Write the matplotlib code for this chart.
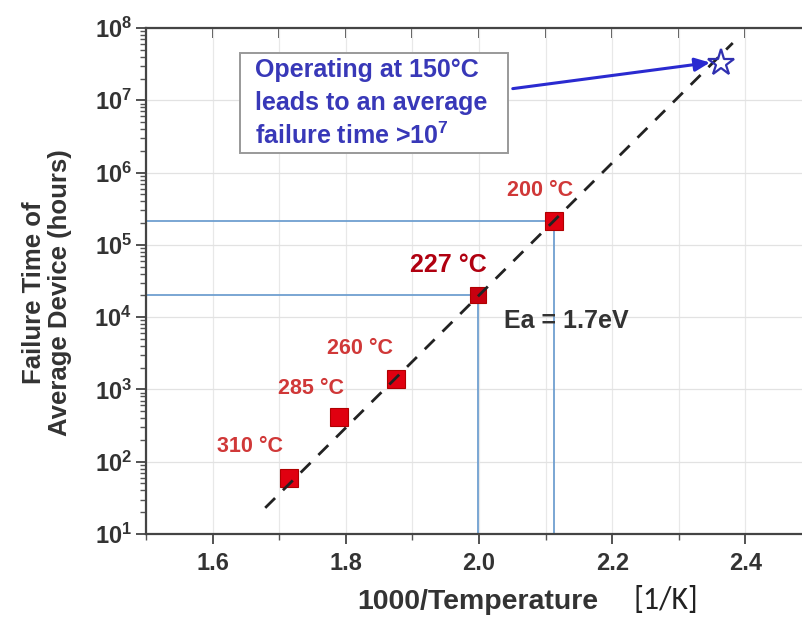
import matplotlib
matplotlib.use("Agg")
import matplotlib.pyplot as plt
from matplotlib.patches import Rectangle
from matplotlib.ticker import FixedLocator, LogLocator, NullFormatter, MultipleLocator

plt.rcParams['font.family'] = ['Liberation Sans', 'DejaVu Sans']
plt.rcParams['mathtext.fontset'] = 'custom'
plt.rcParams['mathtext.bf'] = 'Liberation Sans:bold'
plt.rcParams['mathtext.rm'] = 'Liberation Sans'

# Data
temps_c = ["310", "285", "260", "227", "200"]
inv_temp = [1.715, 1.790, 1.876, 1.999, 2.113]
fail_hours = [60, 420, 1400, 2.0e4, 2.15e5]
fit_x = [1.679, 2.381]
fit_y = [23, 6.2e7]
star_x = [2.363]
star_y = [3.3e7]
x_ticks = [1.6, 1.8, 2.0, 2.2, 2.4]
y_ticks = [1e1, 1e2, 1e3, 1e4, 1e5, 1e6, 1e7, 1e8]
y_labels = [r'$\mathbf{10^{%d}}$' % i for i in range(1, 9)]

W, H = 802, 622
fig = plt.figure(figsize=(W / 100, H / 100), dpi=100)
x0, x1 = 146, 812
y0, y1 = 28, 534
ax = fig.add_axes([x0 / W, 1 - y1 / H, (x1 - x0) / W, (y1 - y0) / H])
ax.set_xlim(1.5, 2.5)
ax.set_ylim(1e1, 1e8)
ax.set_yscale('log')

ax.xaxis.set_major_locator(FixedLocator(x_ticks))
ax.xaxis.set_minor_locator(MultipleLocator(0.1))
ax.yaxis.set_major_locator(FixedLocator(y_ticks))
ax.yaxis.set_minor_locator(LogLocator(base=10, subs=range(2, 10)))
ax.yaxis.set_minor_formatter(NullFormatter())
ax.set_yticklabels(y_labels)
ax.set_xticklabels(['%.1f' % v for v in x_ticks])
ax.grid(True, which='major', axis='y', color='#e2e2e2', lw=0.9)
ax.grid(True, which='both', axis='x', color='#e8e8e8', lw=0.9)
ax.set_axisbelow(True)

for s in ['left', 'bottom', 'top']:
    ax.spines[s].set_color('#444444')
    ax.spines[s].set_linewidth(1.6)
ax.spines['right'].set_visible(False)

ax.tick_params(axis='both', which='major', direction='out', length=7, width=1.3,
               color='#444444', labelsize=17, labelcolor='#333333')
ax.tick_params(axis='both', which='minor', direction='out', length=4, width=1.0, color='#555555')
ax.tick_params(axis='x', pad=6)
ax.tick_params(axis='y', pad=3)
for lab in ax.get_xticklabels():
    lab.set_fontweight('bold')

sec = ax.secondary_xaxis('top')
sec.xaxis.set_major_locator(MultipleLocator(0.1))
sec.tick_params(direction='in', length=7, width=1.3, color='#444444', labeltop=False)
sec.spines['top'].set_visible(False)

# blue reference lines
ref_col = '#6f9fd0'
for i in (3, 4):
    ax.plot([1.5, inv_temp[i]], [fail_hours[i], fail_hours[i]], color=ref_col, lw=1.3, zorder=2)
    ax.plot([inv_temp[i], inv_temp[i]], [1e1, fail_hours[i]], color=ref_col, lw=1.3, zorder=2)

# fit line
ax.plot(fit_x, fit_y, color='#222222', lw=2.0, dashes=(5, 4), zorder=4)

# data squares
sizes = [13.5, 13.5, 13.5, 11.5, 13.5]
for i in range(len(inv_temp)):
    fc = '#c80010' if i == 3 else '#e00010'
    ax.plot(inv_temp[i], fail_hours[i], marker='s', ms=sizes[i], mfc=fc,
            mec='#b00000', mew=0.8, ls='none', zorder=3)

# star
ax.plot(star_x, star_y, marker='*', ms=20, mfc='none', mec='#3030b0', mew=1.6, ls='none', zorder=5)

# labels
lab_col = '#d03838'
deg = '\u00b0'
label_pos = [(250, 447), (311, 388), (360, 348), (448, 265), (540, 190)]
for i, t in enumerate(temps_c):
    px, py = label_pos[i]
    if i == 3:
        fig.text(px / W, 1 - py / H, t + ' ' + deg + 'C', color='#b00010', fontsize=18,
                 fontweight='bold', ha='center', va='center')
    else:
        fig.text(px / W, 1 - py / H, t + ' ' + deg + 'C', color=lab_col, fontsize=15.5,
                 fontweight='bold', ha='center', va='center')

fig.text(566 / W, 1 - 321 / H, 'Ea = 1.7eV', color='#333333', fontsize=18,
         fontweight='bold', ha='center', va='center')

# annotation box
fig.add_artist(Rectangle((240 / W, 1 - 153 / H), (508 - 240) / W, (153 - 53) / H,
                         transform=fig.transFigure, fc='white', ec='#999999', lw=1.4, zorder=5))
box_lines = ['Operating at 150' + deg + 'C', 'leads to an average',
             r'failure time >10$^{\mathbf{7}}$']
box_y = [70, 103, 136]
for s, yy in zip(box_lines, box_y):
    fig.text(255 / W, 1 - yy / H, s, color='#3838b8', fontsize=18, fontweight='bold',
             ha='left', va='center', zorder=6)
ax.annotate('', xy=(star_x[0] - 0.012, star_y[0] * 1.02), xycoords='data',
            xytext=(510 / W, 1 - 89 / H), textcoords='figure fraction',
            arrowprops=dict(arrowstyle='-|>,head_length=0.9,head_width=0.4', color='#2a2ad0', lw=2.2),
            zorder=6)

# axis labels
fig.text(47 / W, 1 - 293 / H, 'Failure Time of\nAverage Device (hours)', rotation=90,
         ha='center', va='center', fontsize=18.5, fontweight='bold', color='#333333',
         linespacing=1.15)
fig.text(478 / W, 1 - 602 / H, '1000/Temperature', ha='center', va='center',
         fontsize=20.5, fontweight='bold', color='#333333')
fig.text(666 / W, 1 - 600 / H, '[1/K]', ha='center', va='center',
         fontsize=23, color='#222222', family=['Carlito', 'Liberation Sans', 'DejaVu Sans'])

fig.savefig('out.png', dpi=100)
